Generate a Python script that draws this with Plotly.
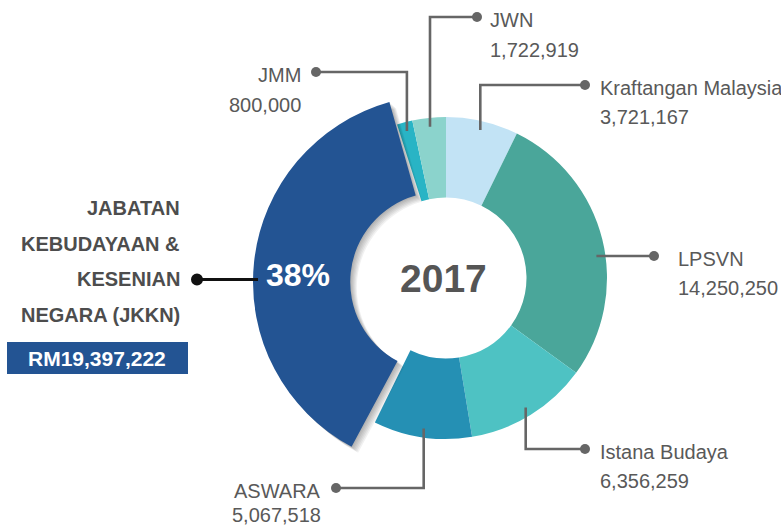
import math
import plotly.graph_objects as go

# ---------------- data ----------------
labels = ["Kraftangan Malaysia", "LPSVN", "Istana Budaya", "ASWARA",
          "Jabatan Kebudayaan & Kesenian Negara (JKKN)", "JMM", "JWN"]
values = [3721167, 14250250, 6356259, 5067518, 19397222, 800000, 1722919]
year_label = "2017"
highlight_title = ["JABATAN", "KEBUDAYAAN &", "KESENIAN", "NEGARA (JKKN)"]
highlight_index = 4

# ---------------- style ----------------
colors = ["#C2E3F5", "#4AA69A", "#4EC2C3", "#2590B4", "#235493", "#29B4C5", "#8BD3CC"]
W, H = 781, 528
FONT = "Liberation Sans, Arial, sans-serif"
TXT = "#595959"
LINE = "#666666"

MAIN_C, MAIN_R, MAIN_HOLE = (446, 278), 161, 0.5
BIG_C, BIG_R, BIG_HOLE, BIG_ROT = (440, 282), 187, 0.48, 2
ANCHOR_R = 152

# leader layout (pixel positions of elbows / dots / text)
leaders = {
    0: dict(kind="vh", elbow=85, dot=585, tx=598, anchor="left", vgap=28.5),
    1: dict(kind="h", dot=654, tx=676, anchor="left", frac=0.556, vgap=29),
    2: dict(kind="vh", elbow=449, dot=585, tx=598, anchor="left", vgap=29),
    3: dict(kind="vh", elbow=488, dot=336, tx=323, anchor="right", vgap=24),
    5: dict(kind="vh", elbow=72, dot=316, tx=303, anchor="right", vgap=29.5),
    6: dict(kind="vh", elbow=17, dot=477, tx=488, anchor="left", vgap=29.5),
}

total = sum(values)
fracs = [v / total for v in values]
starts = [sum(fracs[:i]) for i in range(len(values))]


def dom(c, r):
    cx, cy = c
    return dict(x=[(cx - r) / W, (cx + r) / W], y=[(H - cy - r) / H, (H - cy + r) / H])


def point(c, r, f, rot=0):
    th = 2 * math.pi * f + math.radians(rot)
    return c[0] + r * math.sin(th), c[1] - r * math.cos(th)


def pie(cols, c, r, hole, rot=0):
    return go.Pie(values=values, labels=labels, marker=dict(colors=cols, line=dict(width=0)),
                  hole=hole, sort=False, direction="clockwise", rotation=rot,
                  textinfo="none", hoverinfo="skip", showlegend=False, domain=dom(c, r))


clear = "rgba(0,0,0,0)"
fig = go.Figure()
fig.add_trace(go.Scatter(x=[None], y=[None], showlegend=False, hoverinfo="skip"))

main_cols = [clear if i == highlight_index else col for i, col in enumerate(colors)]
fig.add_trace(pie(main_cols, MAIN_C, MAIN_R, MAIN_HOLE))

# soft shadow of the exploded slice
for k in range(1, 7):
    sc = [("rgba(0,0,0,0.055)" if i == highlight_index else clear) for i in range(len(values))]
    fig.add_trace(pie(sc, (BIG_C[0] + k * 1.1, BIG_C[1] + k * 1.0), BIG_R, BIG_HOLE, BIG_ROT))

big_cols = [col if i == highlight_index else clear for i, col in enumerate(colors)]
fig.add_trace(pie(big_cols, BIG_C, BIG_R, BIG_HOLE, BIG_ROT))

shapes, annotations = [], []

for i, spec in leaders.items():
    f = starts[i] + fracs[i] * spec.get("frac", 0.5)
    ax, ay = point(MAIN_C, ANCHOR_R, f)
    if spec["kind"] == "vh":
        dy = spec["elbow"]
        path = f"M {ax:.1f},{ay:.1f} L {ax:.1f},{dy} L {spec['dot']},{dy}"
    else:
        dy = ay
        path = f"M {ax:.1f},{ay:.1f} L {spec['dot']},{ay:.1f}"
    dx = spec["dot"]
    shapes.append(dict(type="path", path=path, xref="x", yref="y",
                       line=dict(color=LINE, width=2.6), layer="above"))
    shapes.append(dict(type="circle", xref="x", yref="y", x0=dx - 5, x1=dx + 5,
                       y0=dy - 5, y1=dy + 5, fillcolor=LINE, line=dict(width=0), layer="above"))
    annotations.append(dict(x=spec["tx"], y=dy + 3, xref="x", yref="y", text=labels[i],
                            showarrow=False, xanchor=spec["anchor"], yanchor="middle",
                            font=dict(family=FONT, size=20, color=TXT)))
    annotations.append(dict(x=spec["tx"], y=dy + 3 + spec["vgap"], xref="x", yref="y",
                            text=f"{values[i]:,}", showarrow=False, xanchor=spec["anchor"],
                            yanchor="middle", font=dict(family=FONT, size=20, color=TXT)))

# highlight leader
hf = starts[highlight_index] + fracs[highlight_index] * 0.46
hx, hy = point(BIG_C, BIG_R - 5, hf, BIG_ROT)
shapes.append(dict(type="line", xref="x", yref="y", x0=197, x1=hx, y0=hy, y1=hy,
                   line=dict(color="#111111", width=3), layer="above"))
shapes.append(dict(type="circle", xref="x", yref="y", x0=191, x1=203, y0=hy - 6, y1=hy + 6,
                   fillcolor="#111111", line=dict(width=0), layer="above"))

for j, line_txt in enumerate(highlight_title):
    annotations.append(dict(x=182, y=208 + j * 35.5, xref="x", yref="y", text=f"<b>{line_txt}</b>",
                            showarrow=False, xanchor="right", yanchor="middle",
                            font=dict(family=FONT, size=20, color="#4d4d4d")))

shapes.append(dict(type="rect", xref="x", yref="y", x0=7, x1=188, y0=342, y1=374,
                   fillcolor=colors[highlight_index], line=dict(width=0), layer="above"))
annotations.append(dict(x=97, y=358, xref="x", yref="y",
                        text=f"<b>RM{values[highlight_index]:,}</b>", showarrow=False,
                        xanchor="center", yanchor="middle",
                        font=dict(family=FONT, size=21, color="white")))

pct = round(100 * fracs[highlight_index])
annotations.append(dict(x=298, y=275, xref="x", yref="y", text=f"<b>{pct}%</b>",
                        showarrow=False, xanchor="center", yanchor="middle",
                        font=dict(family=FONT, size=32, color="white")))
annotations.append(dict(x=443, y=278, xref="x", yref="y", text=f"<b>{year_label}</b>",
                        showarrow=False, xanchor="center", yanchor="middle",
                        font=dict(family=FONT, size=39, color="#555555")))

fig.update_layout(
    width=W, height=H, margin=dict(l=0, r=0, t=0, b=0),
    paper_bgcolor="white", plot_bgcolor="white",
    xaxis=dict(range=[0, W], visible=False, fixedrange=True, domain=[0, 1]),
    yaxis=dict(range=[H, 0], visible=False, fixedrange=True, domain=[0, 1]),
    shapes=shapes, annotations=annotations, showlegend=False,
)
fig.write_html("out.html", config={"displayModeBar": False},
               post_script="document.body.style.margin='0';document.body.style.overflow='hidden';")
